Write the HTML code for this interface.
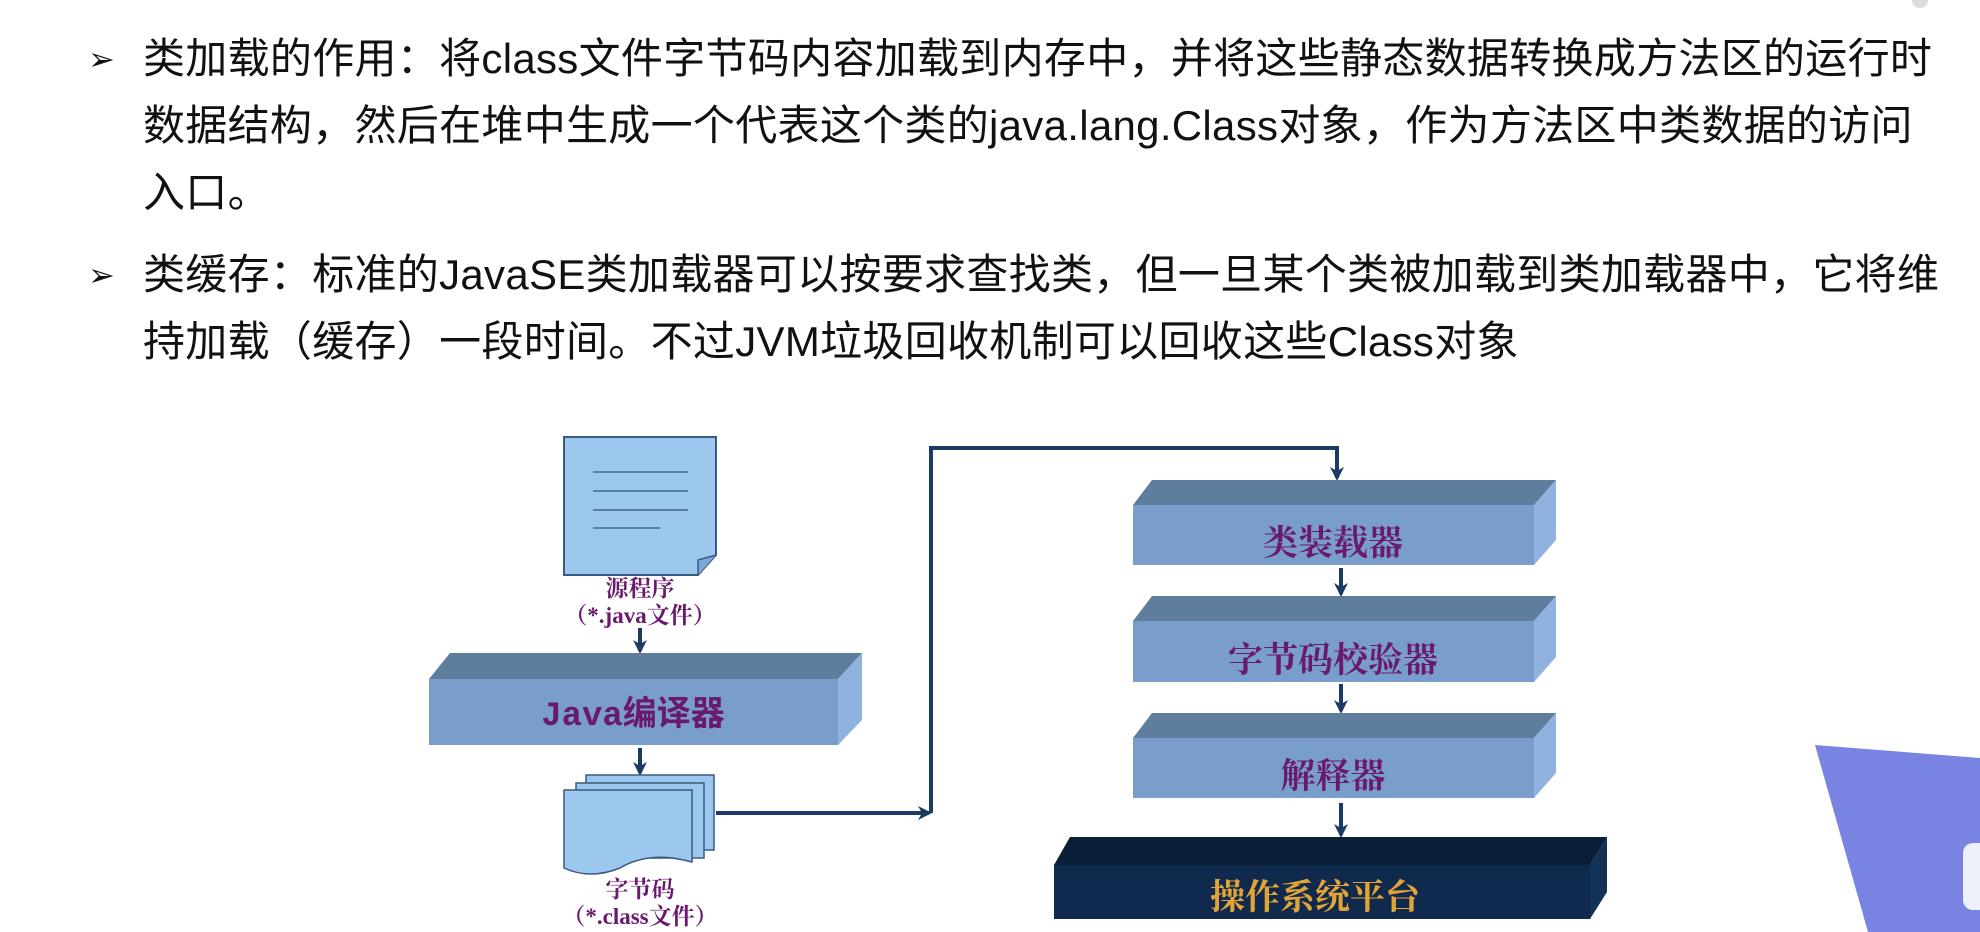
<!DOCTYPE html>
<html><head><meta charset="utf-8"><style>
html,body{margin:0;padding:0;background:#fff;}
body{width:1980px;height:932px;position:relative;overflow:hidden;font-family:"Liberation Sans","Noto Sans CJK SC",sans-serif;color:#111;}
.p{position:absolute;left:143px;font-size:42px;line-height:67px;white-space:nowrap;letter-spacing:0.3px;}
.b{position:absolute;left:88px;font-size:32px;}
svg{position:absolute;left:0;top:0;}
</style></head><body>
<div class="b" style="top:40px">➢</div>
<div class="p" style="top:25px">类加载的作用：将class文件字节码内容加载到内存中，并将这些静态数据转换成方法区的运行时<br>数据结构，然后在堆中生成一个代表这个类的java.lang.Class对象，作为方法区中类数据的访问<br>入口。</div>
<div class="b" style="top:256px">➢</div>
<div class="p" style="top:241px">类缓存：标准的JavaSE类加载器可以按要求查找类，但一旦某个类被加载到类加载器中，它将维<br>持加载（缓存）一段时间。不过JVM垃圾回收机制可以回收这些Class对象</div>
<svg width="1980" height="932" viewBox="0 0 1980 932">
<defs>
<marker id="a" markerWidth="14" markerHeight="14" refX="11" refY="7" orient="auto" markerUnits="userSpaceOnUse"><path d="M0,0 L14,7 L0,14 L4,7 Z" fill="#1b3a66"/></marker>
</defs>
<path d="M564,437 H716 V555 L698,575 H564 Z" fill="#9cc8ef" stroke="#3a5a80" stroke-width="2"/>
<path d="M716,555 L698,560 L698,575" fill="#7aa8d8" stroke="#3a5a80" stroke-width="1.5"/>
<g stroke="#5a7ea8" stroke-width="2"><line x1="593" y1="472" x2="688" y2="472"/><line x1="593" y1="491" x2="688" y2="491"/><line x1="593" y1="510" x2="688" y2="510"/><line x1="593" y1="528" x2="660" y2="528"/></g>
<g font-family="Liberation Serif,'Noto Serif CJK SC',serif" font-weight="bold" fill="#6a1a6e" text-anchor="middle" font-size="23">
<text x="640" y="596">源程序</text><text x="640" y="623">（*.java文件）</text>
<text x="640" y="897">字节码</text><text x="640" y="924">（*.class文件）</text>
</g>
<g stroke="#1b3a66" stroke-width="4" fill="none">
<line x1="640" y1="628" x2="640" y2="651" marker-end="url(#a)"/>
<line x1="640" y1="748" x2="640" y2="773" marker-end="url(#a)"/>
<polyline points="716,813 929,813" marker-end="url(#a)"/>
<polyline points="931,813 931,448 1337,448 1337,478" marker-end="url(#a)"/>
<line x1="1341" y1="568" x2="1341" y2="594" marker-end="url(#a)"/>
<line x1="1341" y1="684" x2="1341" y2="711" marker-end="url(#a)"/>
<line x1="1341" y1="803" x2="1341" y2="835" marker-end="url(#a)"/>
</g>
<g fill="#9cc8ef" stroke="#3a5a80" stroke-width="1.5">
<rect x="586" y="775" width="128" height="75"/>
<rect x="576" y="783" width="128" height="75"/>
<path d="M564,790 H692 V862 Q650,850 620,868 Q590,880 564,868 Z"/>
</g>
<g>
<path d="M429,679 L450,653 H862 L838,679 Z" fill="#5f7d9c"/>
<path d="M838,679 L862,653 V720 L838,745 Z" fill="#8fb3de"/>
<rect x="429" y="679" width="409" height="66" fill="#7a9ecb"/>
<text x="633" y="725" text-anchor="middle" font-family="Liberation Mono,'Noto Sans CJK SC',monospace" font-weight="bold" font-size="34" fill="#6a1a6e">Java编译器</text>
<path d="M1133,505 L1152,480 H1556 L1534,505 Z" fill="#5f7d9c"/>
<path d="M1534,505 L1556,480 V540 L1534,565 Z" fill="#8fb3de"/>
<rect x="1133" y="505" width="401" height="60" fill="#7a9ecb"/>
<path d="M1133,621 L1152,596 H1556 L1534,621 Z" fill="#5f7d9c"/>
<path d="M1534,621 L1556,596 V657 L1534,682 Z" fill="#8fb3de"/>
<rect x="1133" y="621" width="401" height="61" fill="#7a9ecb"/>
<path d="M1133,738 L1152,713 H1556 L1534,738 Z" fill="#5f7d9c"/>
<path d="M1534,738 L1556,713 V773 L1534,798 Z" fill="#8fb3de"/>
<rect x="1133" y="738" width="401" height="60" fill="#7a9ecb"/>
<path d="M1054,865 L1070,837 H1607 L1590,865 Z" fill="#0a1e38"/>
<path d="M1590,865 L1607,837 V892 L1590,919 Z" fill="#123257"/>
<rect x="1054" y="865" width="536" height="54" fill="#0f2a4c"/>
<g font-family="Liberation Serif,'Noto Serif CJK SC',serif" font-weight="bold" font-size="35" text-anchor="middle" fill="#6a1a6e">
<text x="1333" y="555">类装载器</text>
<text x="1333" y="672">字节码校验器</text>
<text x="1333" y="788">解释器</text>
<text x="1315" y="909" fill="#e3a437">操作系统平台</text>
</g>
</g>
<polygon points="1815,745 1980,758 1980,932 1868,932" fill="#7883e2"/>
<rect x="1963" y="843" width="30" height="67" rx="10" fill="#eef0fb"/>
<circle cx="1920" cy="0" r="8" fill="#ddd"/>
</svg>
</body></html>
